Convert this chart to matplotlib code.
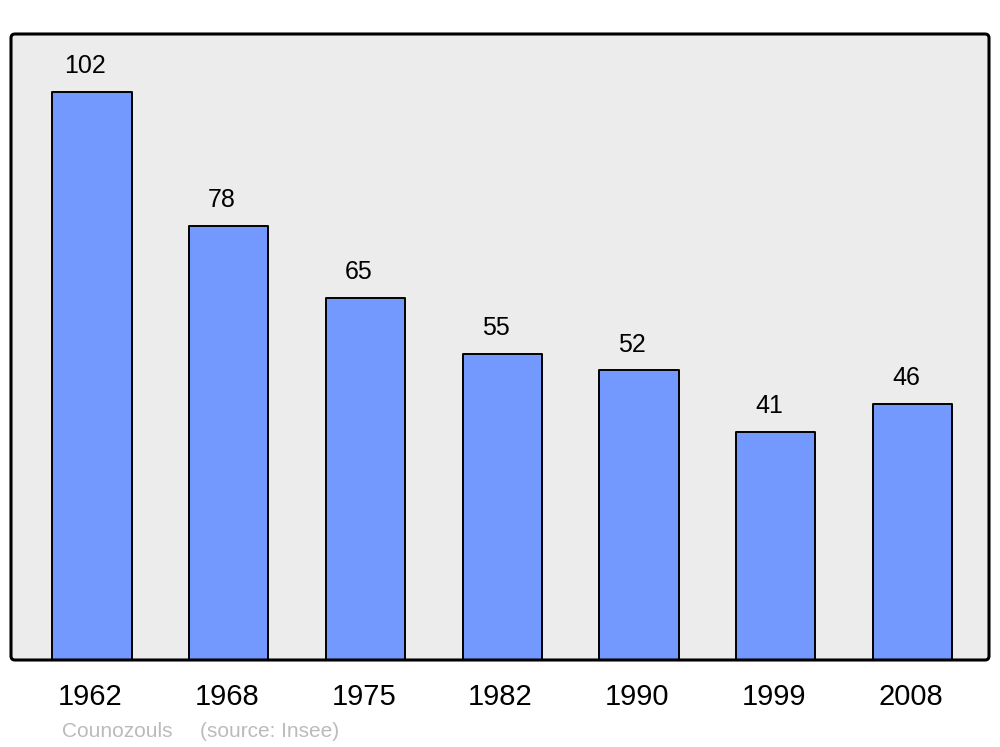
import matplotlib
matplotlib.use("Agg")
import matplotlib.pyplot as plt
from matplotlib.patches import FancyBboxPatch

years = ["1962", "1968", "1975", "1982", "1990", "1999", "2008"]
population = [102, 78, 65, 55, 52, 41, 46]
commune = "Counozouls"
source = "(source: Insee)"

plt.rcParams['font.family'] = ['Liberation Sans', 'DejaVu Sans']

W, H = 1000, 747
fig = plt.figure(figsize=(W / 100, H / 100), dpi=100)
fig.patch.set_facecolor('white')

left, right, top, bottom = 11, 989, 34, 660
ax = fig.add_axes([left / W, 1 - bottom / H, (right - left) / W, (bottom - top) / H])
ax.set_facecolor('none')
for s in ax.spines.values():
    s.set_visible(False)

rect = (left / W, 1 - bottom / H)
rw, rh = (right - left) / W, (bottom - top) / H
frame = FancyBboxPatch(rect, rw, rh,
                       boxstyle="round,pad=0,rounding_size=0.004", mutation_aspect=W / H,
                       transform=fig.transFigure, facecolor='#ececec', edgecolor='none',
                       zorder=0, clip_on=False)
ax.add_patch(frame)

x = list(range(len(years)))
bars = ax.bar(x, population, width=0.58, color='#7399ff', edgecolor='black', linewidth=1.4, zorder=2)
for b in bars:
    b.set_joinstyle('round')

ax.set_xlim(-0.592, len(years) - 1 + 0.56)
ax.set_ylim(0, 112.4)
ax.set_xticks([])
ax.set_yticks([])

for xi, v in zip(x, population):
    ax.annotate(str(v), xy=(xi, v), xytext=(-4.7, 13.6), textcoords='offset points',
                ha='center', va='baseline', fontsize=18, color='black', zorder=3)
    ax.annotate(years[xi], xy=(xi, 0), xycoords=('data', 'axes fraction'), xytext=(-1.2, -32.4),
                textcoords='offset points', ha='center', va='baseline', fontsize=21, color='black',
                annotation_clip=False)

border = FancyBboxPatch(rect, rw, rh,
                        boxstyle="round,pad=0,rounding_size=0.004", mutation_aspect=W / H,
                        transform=fig.transFigure, facecolor='none', edgecolor='black',
                        linewidth=2.2, zorder=5, clip_on=False)
ax.add_patch(border)

fig.text(62 / W, 1 - 737 / H, commune, ha='left', va='baseline', fontsize=15, color='#bbbbbb')
fig.text(200 / W, 1 - 737 / H, source, ha='left', va='baseline', fontsize=15, color='#bbbbbb')

fig.savefig('out.png', dpi=100)
